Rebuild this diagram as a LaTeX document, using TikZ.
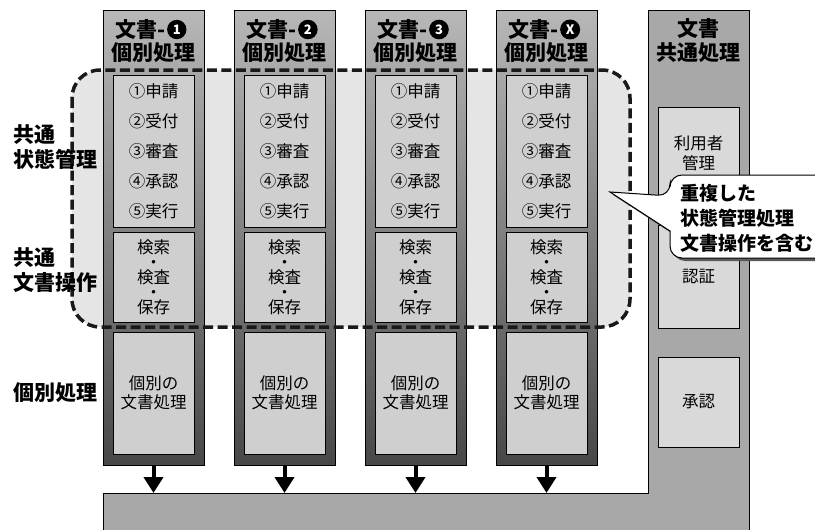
\documentclass[tikz,border=0pt]{standalone}
\usepackage{fontspec}
\setmainfont{Noto Sans CJK JP}
\usetikzlibrary{arrows.meta,positioning}
\lineskiplimit=-50pt

\tikzset{
  colbox/.style={draw, line width=0.8pt, top color=black!28, bottom color=black!72, minimum width=101pt, minimum height=455pt},
  inbox/.style={draw, line width=0.8pt, fill=black!19, minimum width=81pt, align=center, font=\fontsize{16.5}{19}\selectfont},
  combox/.style={draw, line width=0.8pt, fill=black!15, minimum width=81pt, align=center, font=\fontsize{16.5}{20}\selectfont},
  headtext/.style={align=center, inner sep=0pt, font=\bfseries\fontsize{21}{24}\selectfont},
  numdot/.style={circle, fill=black, text=white, inner sep=2.5pt, minimum size=18pt, font=\bfseries\fontsize{13}{13}\selectfont},
  sidetext/.style={anchor=west, align=left, inner sep=0pt, font=\bfseries\fontsize{21}{25}\selectfont},
  downarrow/.style={line width=4pt, -{Triangle[width=19pt,length=16pt]}},
}

\begin{document}
\begin{tikzpicture}[x=1pt, y=-1pt]
\useasboundingbox (0,0) rectangle (815,530);

\fill[black!10, rounded corners=28pt] (72,70) rectangle (630,327);

\draw[line width=0.8pt, fill=black!34] (103,540) -- (103,493) -- (648,493) -- (648,10) -- (749,10) -- (749,540);
\coordinate (bartop) at (0,493);

\foreach \i/\n in {1/1,2/2,3/3,4/X} {
  \pgfmathsetmacro\cx{153.5+131*(\i-1)}
  \node (c\i) at (\cx,237.5) [colbox] {};
  \node (t\i) at (\cx-38,29.5) [headtext, anchor=west] {文書-};
  \node (d\i) [numdot, right=1pt of t\i] {\n};
  \node (h\i) at (\cx,53) [headtext] {個別処理};
  \node (s\i) at (\cx,151) [inbox, minimum height=152pt, font=\fontsize{16.5}{30}\selectfont] {①申請\\②受付\\③審査\\④承認\\⑤実行};
  \node (k\i) at (\cx,277) [inbox, minimum height=90pt, font=\fontsize{16.5}{15}\selectfont] {検索\\・\\検査\\・\\保存};
  \node (p\i) at (\cx,393) [inbox, minimum height=122pt] {個別の\\文書処理};
  \draw[downarrow] (c\i.south) -- (c\i.south |- bartop);
}

\draw[black!90, line width=3.5pt, dash pattern=on 10pt off 4.5pt, rounded corners=28pt] (72,70) rectangle (630,327);

\node (hc) at (698.5,41) [headtext, font=\bfseries\fontsize{21}{24}\selectfont] {文書\\共通処理};
\node (user) at (698.5,153) [combox, minimum height=92pt] {利用者\\管理};
\node (auth) at (698.5,276.5) [combox, minimum height=103pt] {認証};
\node (appr) at (698.5,402) [combox, minimum height=90pt] {承認};

\node (l1) at (13,147.5) [sidetext] {共通\\状態管理};
\node (l2) at (13,270) [sidetext] {共通\\文書操作};
\node (l3) at (13,393) [sidetext] {個別処理};

\draw[line width=1pt, fill=white, preaction={fill=black!65, transform canvas={shift={(3pt,-3pt)}}}, rounded corners=12pt]
  (830,175) -- (670,175) -- (670,196) [sharp corners] -- (610,192) -- (670,231) [rounded corners=12pt] -- (670,258) -- (830,258);
\node (note) at (680,218) [anchor=west, align=left, inner sep=0pt, font=\bfseries\fontsize{19}{25}\selectfont] {重複した\\状態管理処理\\文書操作を含む};
\end{tikzpicture}
\end{document}
